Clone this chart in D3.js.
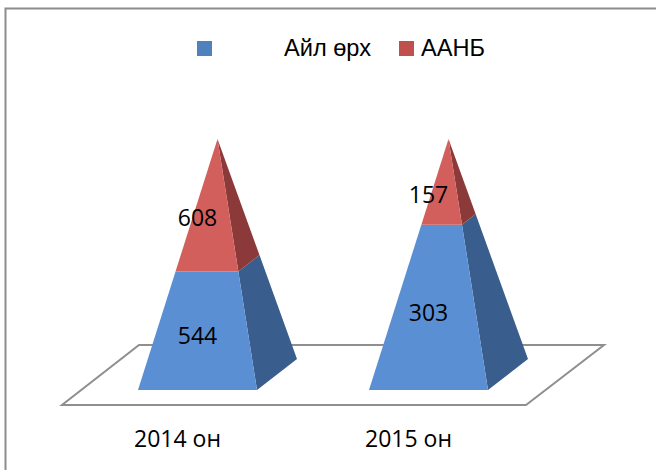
<!DOCTYPE html>
<html><head><meta charset="utf-8">
<script src="https://cdn.jsdelivr.net/npm/d3@7"></script>
<style>html,body{margin:0;padding:0;background:#fff}svg{display:block}</style>
</head><body><svg id="c" width="656" height="470"></svg>
<script>
const categories = ["2014 он", "2015 он"];
const seriesNames = ["Айл өрх", "ААНБ"];
const ailOrkh = [544, 303];
const aanb = [608, 157];
const seriesColors = ["#4f81bd", "#c0504d"];
const frontColors = ["#5a8fd3", "#d25f5c"];
const sideColors = ["#395d8c", "#8c3a39"];

const rows = categories.map((c, i) => ({cat: c, [seriesNames[0]]: ailOrkh[i], [seriesNames[1]]: aanb[i]}));
const stacked = d3.stack().keys(seriesNames).offset(d3.stackOffsetExpand)(rows);

const svg = d3.select("#c");
const baseY = 390, apexY = 139;
const y = d3.scaleLinear().domain([0, 1]).range([baseY, apexY]);
const x = d3.scalePoint().domain(categories).range([197.5, 428.5]);
const halfW = 59.5, depth = [40, -31];

svg.append("path").attr("d", "M5.5 470V8.5H656").attr("fill", "none").attr("stroke", "#8c8c8c").attr("stroke-width", 2);

svg.append("polygon")
  .attr("points", [[62,405],[526,405],[604,345],[139,345]].join(" "))
  .attr("fill", "#fff").attr("stroke", "#8f8f8f").attr("stroke-width", 2);

const g = svg.append("g");
categories.forEach((cat, ci) => {
  const cx = x(cat);
  const apex = [cx + depth[0] / 2, apexY];
  const pt = (corner, v) => {
    const t = (baseY - y(v)) / (baseY - apexY);
    return [corner[0] + (apex[0] - corner[0]) * t, corner[1] + (apex[1] - corner[1]) * t];
  };
  const fl = [cx - halfW, baseY], fr = [cx + halfW, baseY], br = [cx + halfW + depth[0], baseY + depth[1]];
  stacked.forEach((s, si) => {
    const [v0, v1] = s[ci];
    g.append("polygon").attr("fill", sideColors[si])
      .attr("points", [pt(fr, v0), pt(br, v0), pt(br, v1), pt(fr, v1)].join(" "));
    g.append("polygon").attr("fill", frontColors[si])
      .attr("points", [pt(fl, v0), pt(fr, v0), pt(fr, v1), pt(fl, v1)].join(" "));
  });
});

const labelFont = "'Open Sans','Noto Sans',sans-serif";
const labelY = [[344, 226], [321, 203]];
categories.forEach((cat, ci) => {
  stacked.forEach((s, si) => {
    const vals = si === 0 ? ailOrkh : aanb;
    svg.append("text").attr("x", x(cat)).attr("y", labelY[ci][si])
      .attr("text-anchor", "middle").attr("font-family", labelFont).attr("font-size", 23)
      .attr("fill", "#000").text(vals[ci]);
  });
  svg.append("text").attr("x", x(cat) - 20).attr("y", 447)
    .attr("text-anchor", "middle").attr("font-family", labelFont).attr("font-size", 23)
    .attr("fill", "#000").text(cat);
});

const legendX = [197, 399], legendTextX = [284, 421];
seriesNames.forEach((n, i) => {
  svg.append("rect").attr("x", legendX[i]).attr("y", 41).attr("width", 15).attr("height", 15).attr("fill", seriesColors[i]);
  svg.append("text").attr("x", legendTextX[i]).attr("y", 56)
    .attr("font-family", "'Liberation Sans',Arial,sans-serif").attr("font-size", 23.6).attr("fill", "#000").text(n);
});
</script></body></html>
